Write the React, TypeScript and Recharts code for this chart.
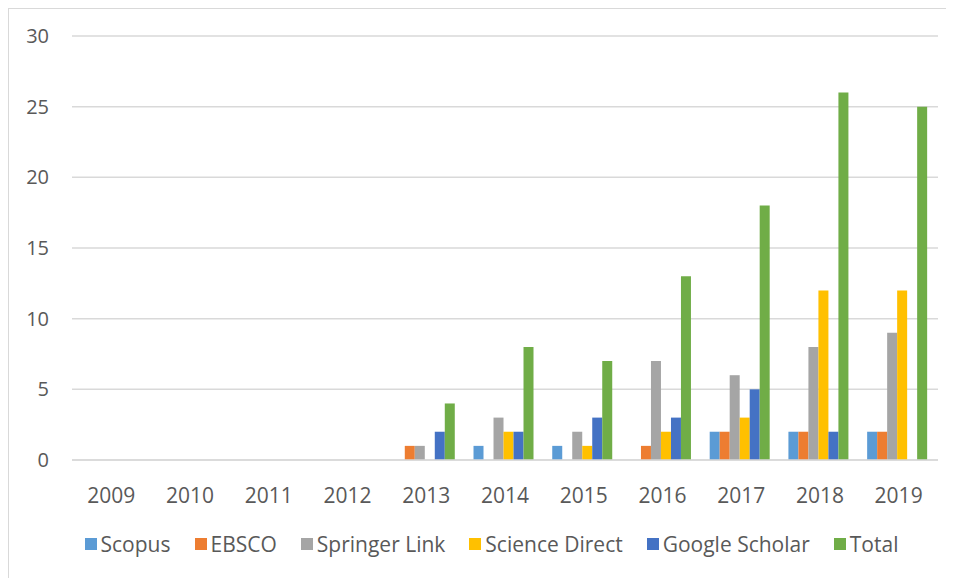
import { BarChart, Bar, XAxis, YAxis, CartesianGrid, Legend } from "recharts";

const years = ["2009", "2010", "2011", "2012", "2013", "2014", "2015", "2016", "2017", "2018", "2019"];
const scopus = [0, 0, 0, 0, 0, 1, 1, 0, 2, 2, 2];
const ebsco = [0, 0, 0, 0, 1, 0, 0, 1, 2, 2, 2];
const springerLink = [0, 0, 0, 0, 1, 3, 2, 7, 6, 8, 9];
const scienceDirect = [0, 0, 0, 0, 0, 2, 1, 2, 3, 12, 12];
const googleScholar = [0, 0, 0, 0, 2, 2, 3, 3, 5, 2, 0];
const total = [0, 0, 0, 0, 4, 8, 7, 13, 18, 26, 25];
const yTicks = [0, 5, 10, 15, 20, 25, 30];

const series = [
  { key: "scopus", name: "Scopus", color: "#5B9BD5" },
  { key: "ebsco", name: "EBSCO", color: "#ED7D31" },
  { key: "springer", name: "Springer Link", color: "#A5A5A5" },
  { key: "science", name: "Science Direct", color: "#FFC000" },
  { key: "google", name: "Google Scholar", color: "#4472C4" },
  { key: "total", name: "Total", color: "#70AD47" },
];

const data = years.map((year, i) => ({
  year,
  scopus: scopus[i],
  ebsco: ebsco[i],
  springer: springerLink[i],
  science: scienceDirect[i],
  google: googleScholar[i],
  total: total[i],
}));

const textColor = "#595959";
const gridColor = "#D9D9D9";

const LegendRow = () => (
  <div
    style={{
      height: 40,
      paddingLeft: 36,
      boxSizing: "border-box",
      display: "flex",
      justifyContent: "center",
      alignItems: "center",
      gap: 24,
      fontSize: 21,
      color: textColor,
    }}
  >
    {series.map((s) => (
      <div key={s.key} style={{ display: "flex", alignItems: "center", gap: 4 }}>
        <span style={{ width: 12, height: 12, background: s.color, display: "inline-block" }} />
        <span>{s.name}</span>
      </div>
    ))}
  </div>
);

export default function App() {
  return (
    <div
      style={{
        width: 940,
        height: 570,
        border: `1px solid ${gridColor}`,
        background: "#fff",
        fontFamily: "'Open Sans', sans-serif",
      }}
    >
      <BarChart
        width={940}
        height={568}
        data={data}
        margin={{ top: 27, right: 11, bottom: 13, left: 0 }}
        barCategoryGap="10%"
        barGap={0}
      >
        <CartesianGrid vertical={false} stroke={gridColor} strokeWidth={1.5} />
        <XAxis
          dataKey="year"
          height={64}
          tickLine={false}
          axisLine={{ stroke: gridColor, strokeWidth: 1.5 }}
          tick={{ fill: textColor, fontSize: 21 }}
          tickMargin={22}
        />
        <YAxis
          width={63}
          domain={[0, 30]}
          ticks={yTicks}
          tickLine={false}
          axisLine={false}
          tickSize={0}
          tickMargin={23}
          tick={{ fill: textColor, fontSize: 20 }}
        />
        <Legend verticalAlign="bottom" content={() => <LegendRow />} />
        {series.map((s) => (
          <Bar key={s.key} dataKey={s.key} name={s.name} fill={s.color} isAnimationActive={false} />
        ))}
      </BarChart>
    </div>
  );
}
